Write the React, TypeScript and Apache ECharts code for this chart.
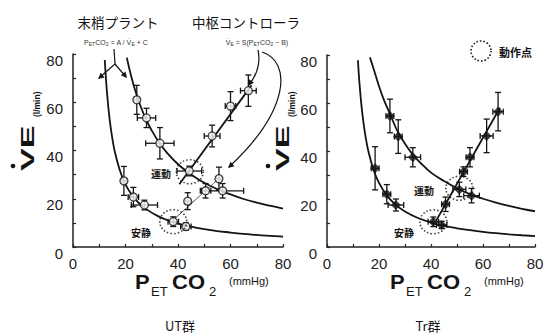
import React, { useEffect, useRef } from "react";
import * as echarts from "echarts";

// ---------- UT group (left panel) ----------
const utRestCurveX = [12.1, 13, 14, 15, 16, 18, 20, 22, 25, 28, 32, 36, 40, 45, 50, 55, 60, 65, 70, 75, 80];
const utRestCurveY = [77.5, 63.3, 52.5, 44.9, 39.2, 31.3, 26.0, 22.3, 18.3, 15.6, 13.0, 11.1, 9.7, 8.4, 7.4, 6.6, 6.0, 5.4, 5.0, 4.6, 4.3];
const utExCurveX = [20.5, 22, 24, 26, 28, 30, 33, 36, 40, 44, 48, 52, 56, 60, 65, 70, 75, 80];
const utExCurveY = [78.5, 71.5, 63.8, 57.6, 52.5, 48.3, 43.0, 38.8, 34.3, 30.8, 27.9, 25.5, 23.5, 21.8, 19.9, 18.4, 17.1, 15.9];
const utExCtrlX = [40.5, 68];
const utExCtrlY = [26, 67];
const utRestCtrlX = [37, 56.6];
const utRestCtrlY = [10, 29.4];
// points: x, y, x-error, y-error
const utPtX = [19.4, 23, 27.2, 38.2, 43, 43.7, 50.5, 55.6, 24.3, 28, 33.1, 44.3, 57, 53, 60, 66.8];
const utPtY = [27.4, 20.7, 17.4, 10.5, 8.5, 19, 23.3, 28.3, 61, 53.5, 43, 31.5, 23.3, 46, 58.4, 64.8];
const utPtXe = [1, 2, 5, 2, 2, 1, 2, 1, 1, 3.5, 5.4, 4.7, 8, 3, 2, 3];
const utPtYe = [6, 4, 2, 2, 1.5, 3.5, 3, 4.8, 6, 4, 6.5, 2, 3, 4.5, 6, 6.5];
const utOpX = [38.2, 44.5];
const utOpY = [10.5, 31.2];

// ---------- Tr group (right panel) ----------
const trRestCurveX = [11.9, 12.5, 13.5, 14.6, 16, 18, 20, 23, 26, 30, 35, 40, 45, 50, 55, 60, 65, 70, 75, 80];
const trRestCurveY = [77.8, 68.1, 56.5, 47.5, 39.5, 31.9, 26.7, 21.5, 18.0, 14.8, 12.1, 10.2, 8.8, 7.8, 7.0, 6.3, 5.75, 5.3, 4.9, 4.56];
const trExCurveX = [16.5, 18, 20, 22, 24.2, 27, 30, 33, 36, 40, 45, 50, 55, 60, 65, 70, 75, 80];
const trExCurveY = [79, 74, 67, 61, 55.5, 48.5, 43, 38.5, 35, 31, 27.5, 24.5, 22, 20.1, 18.5, 17.1, 15.9, 14.9];
const trCtrlX = [42, 66.5];
const trCtrlY = [11, 58];
const trPtX = [18.5, 23, 26.5, 40.9, 44.1, 24.2, 27.4, 33, 50.9, 55.6, 45.6, 52.5, 55, 61.4, 65.8];
const trPtY = [32.8, 22, 17.5, 10.5, 9.2, 54.6, 46, 37.4, 24, 21.4, 17.8, 31.4, 37.4, 46.3, 56.4];
const trPtXe = [1.5, 1.5, 3, 2, 2, 1.5, 1.5, 3, 2.5, 3, 1.5, 1.5, 1.5, 2.5, 2];
const trPtYe = [9, 4, 2.5, 2, 1.5, 7, 7, 4, 3, 3, 3, 2, 4, 7, 8];
const trOpX = [40.9, 50.9];
const trOpY = [10.5, 24.5];

const tickLabels = ["0", "20", "40", "60", "80"];

const FONT = '"Liberation Sans", Arial, sans-serif';
const JP = '"Noto Sans CJK JP", sans-serif';
const INK = "#141414";

const zip2 = (a: number[], b: number[]) => a.map((v, i) => [v, b[i]]);
const zip4 = (a: number[], b: number[], c: number[], d: number[]) => a.map((v, i) => [v, b[i], c[i], d[i]]);

function errRender(_p: any, api: any) {
  const x = api.value(0), y = api.value(1), xe = api.value(2), ye = api.value(3);
  const c = api.coord([x, y]);
  const l = api.coord([x - xe, y]);
  const r = api.coord([x + xe, y]);
  const t = api.coord([x, y + ye]);
  const b = api.coord([x, y - ye]);
  const style = { stroke: INK, lineWidth: 1.3 };
  const cap = 3;
  const ch: any[] = [];
  if (ye > 0) {
    ch.push({ type: "line", shape: { x1: c[0], y1: t[1], x2: c[0], y2: b[1] }, style });
    ch.push({ type: "line", shape: { x1: c[0] - cap, y1: t[1], x2: c[0] + cap, y2: t[1] }, style });
    ch.push({ type: "line", shape: { x1: c[0] - cap, y1: b[1], x2: c[0] + cap, y2: b[1] }, style });
  }
  if (xe > 0) {
    ch.push({ type: "line", shape: { x1: l[0], y1: c[1], x2: r[0], y2: c[1] }, style });
    ch.push({ type: "line", shape: { x1: l[0], y1: c[1] - cap, x2: l[0], y2: c[1] + cap }, style });
    ch.push({ type: "line", shape: { x1: r[0], y1: c[1] - cap, x2: r[0], y2: c[1] + cap }, style });
  }
  return { type: "group", children: ch };
}

function arrowHead(fx: number, fy: number, tx: number, ty: number) {
  const a = Math.atan2(ty - fy, tx - fx);
  const len = 6, w = 3;
  const bx = tx - len * Math.cos(a), by = ty - len * Math.sin(a);
  const nx = -Math.sin(a) * w, ny = Math.cos(a) * w;
  return {
    type: "polygon",
    shape: { points: [[tx, ty], [bx + nx, by + ny], [bx - nx, by - ny]] },
    style: { fill: INK },
    z: 20,
  };
}

function xTitle(x0: number) {
  const y = 282;
  return {
    type: "group",
    x: x0,
    y: 0,
    children: [
      { type: "text", x: 0, y, scaleX: 1.1, style: { text: "P", font: `bold 20px ${FONT}`, lineHeight: 14, fill: INK, verticalAlign: "middle" } },
      { type: "text", x: 16, y: y + 9, style: { text: "ET", font: `13px ${FONT}`, lineHeight: 10, fill: INK, verticalAlign: "middle" } },
      { type: "text", x: 37, y, scaleX: 1.1, style: { text: "CO", font: `bold 20px ${FONT}`, lineHeight: 14, fill: INK, verticalAlign: "middle" } },
      { type: "text", x: 74, y: y + 9, style: { text: "2", font: `13px ${FONT}`, lineHeight: 10, fill: INK, verticalAlign: "middle" } },
      { type: "text", x: 94, y: y - 1, style: { text: "(mmHg)", font: `11px ${FONT}`, fill: INK, verticalAlign: "middle" } },
    ],
  };
}

function yTitle(x0: number) {
  return {
    type: "group",
    x: x0,
    y: 171,
    rotation: Math.PI / 2,
    children: [
      { type: "text", x: 0, y: -7, scaleX: 1.8, style: { text: "VE", font: `bold 19px ${FONT}`, fill: INK, verticalAlign: "middle", align: "left" } },
      { type: "circle", shape: { cx: 5, cy: -21, r: 2.3 }, style: { fill: INK } },
      { type: "text", x: 54, y: 3, style: { text: "(l/min)", font: `bold 8.5px ${FONT}`, fill: INK, verticalAlign: "middle" } },
    ],
  };
}

function lineSeries(xi: number, xs: number[], ys: number[], width: number, color = INK) {
  return {
    type: "line",
    xAxisIndex: xi,
    yAxisIndex: xi,
    data: zip2(xs, ys),
    smooth: 0.4,
    showSymbol: false,
    symbol: "none",
    lineStyle: { color, width },
    z: 2,
    silent: true,
  };
}

function axisX(gi: number) {
  return {
    type: "value",
    gridIndex: gi,
    min: 0,
    max: 80,
    interval: 10,
    axisLine: { show: true, onZero: false, lineStyle: { color: "#222", width: 1.5 } },
    axisTick: { show: true, inside: true, length: 3, lineStyle: { color: "#222", width: 1.2 } },
    splitLine: { show: false },
    axisLabel: {
      formatter: (v: number) => (v % 20 === 0 ? tickLabels[v / 20] : ""),
      color: "#222",
      fontSize: 15,
      fontFamily: FONT,
      margin: 9,
      lineHeight: 14,
    },
  };
}

function axisY(gi: number) {
  return {
    type: "value",
    gridIndex: gi,
    min: 0,
    max: 80,
    interval: 10,
    axisLine: { show: true, onZero: false, lineStyle: { color: "#222", width: 1.5 } },
    axisTick: { show: true, inside: true, length: 3, lineStyle: { color: "#222", width: 1.2 } },
    splitLine: { show: false },
    axisLabel: {
      formatter: (v: number) => (v % 20 === 0 ? tickLabels[v / 20] : ""),
      color: "#222",
      fontSize: 15,
      fontFamily: FONT,
      margin: 10,
      verticalAlign: "top",
      lineHeight: 12,
    },
  };
}

export default function App() {
  const ref = useRef<HTMLDivElement>(null);
  useEffect(() => {
    if (!ref.current) return;
    const chart = echarts.init(ref.current, null, { renderer: "svg" });
    const opCircle = (xi: number, xs: number[], ys: number[]) => ({
      type: "scatter",
      xAxisIndex: xi,
      yAxisIndex: xi,
      data: zip2(xs, ys),
      symbol: "circle",
      symbolSize: [27, 24],
      itemStyle: { color: "rgba(0,0,0,0)", borderColor: INK, borderWidth: 1.6, borderType: [1.5, 2] },
      z: 6,
      silent: true,
    });
    const errSeries = (xi: number, data: number[][]) => ({
      type: "custom",
      xAxisIndex: xi,
      yAxisIndex: xi,
      coordinateSystem: "cartesian2d",
      renderItem: errRender,
      data,
      encode: { x: 0, y: 1 },
      z: 3,
      silent: true,
    });

    const graphic: any[] = [
      xTitle(135),
      xTitle(390),
      yTitle(34),
      yTitle(289),
      { type: "text", x: 118, y: 22, style: { text: "末梢プラント", font: `13.5px ${JP}`, fill: INK, align: "center", verticalAlign: "middle" } },
      { type: "text", x: 246, y: 22, style: { text: "中枢コントローラ", font: `13.5px ${JP}`, fill: INK, align: "center", verticalAlign: "middle" } },
      {
        type: "text", x: 116, y: 42,
        style: {
          text: "P{s|ET}CO{s|2} = A / V̇{s|E} + C",
          font: `7px ${FONT}`, fill: "#333", align: "center", verticalAlign: "middle",
          rich: { s: { fontSize: 5, fill: "#333", padding: [3, 0, 0, 0] } },
        },
      },
      {
        type: "text", x: 257, y: 42,
        style: {
          text: "V̇{s|E} = S(P{s|ET}CO{s|2} − B)",
          font: `7px ${FONT}`, fill: "#333", align: "center", verticalAlign: "middle",
          rich: { s: { fontSize: 5, fill: "#333", padding: [3, 0, 0, 0] } },
        },
      },
      // arrows from 末梢プラント
      { type: "polyline", shape: { points: [[114, 49], [115, 64], [99, 78]] }, style: { stroke: INK, lineWidth: 1.2, fill: "none" } },
      arrowHead(104, 74, 98, 79),
      { type: "polyline", shape: { points: [[115, 64], [126, 77]] }, style: { stroke: INK, lineWidth: 1.2, fill: "none" } },
      arrowHead(122, 72, 127, 78),
      // arrows from 中枢コントローラ
      { type: "bezierCurve", shape: { x1: 258, y1: 50, cpx1: 262, cpy1: 68, x2: 249, y2: 85 }, style: { stroke: INK, lineWidth: 1.2, fill: "none" } },
      arrowHead(253, 79, 248, 86),
      { type: "bezierCurve", shape: { x1: 262, y1: 52, cpx1: 292, cpy1: 62, cpx2: 290, cpy2: 110, x2: 229, y2: 167 }, style: { stroke: INK, lineWidth: 1.2, fill: "none" } },
      arrowHead(236, 161, 228, 168),
      // legend 動作点
      { type: "circle", shape: { cx: 481, cy: 51, r: 10 }, style: { fill: "none", stroke: INK, lineWidth: 1.6, lineDash: [1.5, 2] } },
      { type: "text", x: 499, y: 52, style: { text: "動作点", font: `bold 11px ${JP}`, fill: INK, verticalAlign: "middle" } },
      // state labels
      { type: "text", x: 161, y: 173, style: { text: "運動", font: `bold 10px ${JP}`, fill: INK, align: "center", verticalAlign: "middle" } },
      { type: "text", x: 141, y: 232, style: { text: "安静", font: `bold 10px ${JP}`, fill: INK, align: "center", verticalAlign: "middle" } },
      { type: "text", x: 424, y: 190, style: { text: "運動", font: `bold 10px ${JP}`, fill: INK, align: "center", verticalAlign: "middle" } },
      { type: "text", x: 404, y: 232, style: { text: "安静", font: `bold 10px ${JP}`, fill: INK, align: "center", verticalAlign: "middle" } },
      // group captions
      { type: "text", x: 180, y: 325, style: { text: "UT群", font: `13px ${JP}`, fill: INK, align: "center", verticalAlign: "middle" } },
      { type: "text", x: 428, y: 325, style: { text: "Tr群", font: `13px ${JP}`, fill: INK, align: "center", verticalAlign: "middle" } },
    ];

    chart.setOption({
      animation: false,
      backgroundColor: "#fff",
      grid: [
        { left: 73, top: 54, width: 210, height: 193 },
        { left: 327, top: 55, width: 208, height: 192 },
      ],
      xAxis: [axisX(0), axisX(1)],
      yAxis: [axisY(0), axisY(1)],
      series: [
        lineSeries(0, utRestCurveX, utRestCurveY, 1.8),
        lineSeries(0, utExCurveX, utExCurveY, 1.8),
        lineSeries(0, utExCtrlX, utExCtrlY, 1.8),
        lineSeries(0, utRestCtrlX, utRestCtrlY, 1, "#555"),
        errSeries(0, zip4(utPtX, utPtY, utPtXe, utPtYe)),
        {
          type: "scatter", xAxisIndex: 0, yAxisIndex: 0,
          data: zip2(utPtX, utPtY), symbol: "circle", symbolSize: 8,
          itemStyle: { color: "#fff", borderColor: INK, borderWidth: 1.3 }, z: 4, silent: true,
        },
        opCircle(0, utOpX, utOpY),
        lineSeries(1, trRestCurveX, trRestCurveY, 1.8),
        lineSeries(1, trExCurveX, trExCurveY, 1.8),
        lineSeries(1, trCtrlX, trCtrlY, 1.8),
        errSeries(1, zip4(trPtX, trPtY, trPtXe, trPtYe)),
        {
          type: "scatter", xAxisIndex: 1, yAxisIndex: 1,
          data: zip2(trPtX, trPtY), symbol: "diamond", symbolSize: 10,
          itemStyle: { color: INK }, z: 4, silent: true,
        },
        opCircle(1, trOpX, trOpY),
      ],
      graphic,
    });
    return () => chart.dispose();
  }, []);
  return (
    <div
      ref={ref}
      style={{ position: "absolute", left: 0, top: 0, width: 549, height: 336, background: "#fff" }}
    />
  );
}
